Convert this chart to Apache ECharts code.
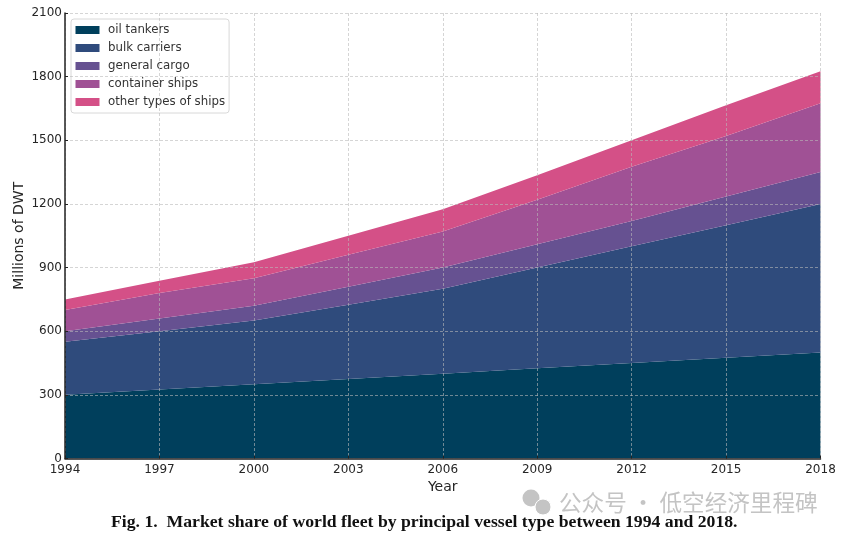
<!DOCTYPE html>
<html lang="zh-CN" style="height: 100%">
<head>
  <meta charset="utf-8">
</head>
<body style="height: 100%; margin: 0; background: #fff">
  <div id="container" style="width: 847px; height: 537px"></div>
  <script src="https://fastly.jsdelivr.net/npm/echarts@6/dist/echarts.min.js"></script>
  <script>
    var years = ['1994', '1997', '2000', '2003', '2006', '2009', '2012', '2015', '2018'];
    var oilTankers = [300, 325, 350, 375, 400, 425, 450, 475, 500];
    var bulkCarriers = [250, 275, 300, 350, 400, 475, 550, 625, 700];
    var generalCargo = [50, 60, 70, 85, 100, 110, 120, 135, 150];
    var containerShips = [100, 120, 130, 150, 170, 210, 255, 285, 325];
    var otherShips = [50, 58, 75, 90, 105, 115, 125, 145, 150];
    var seriesNames = ['oil tankers', 'bulk carriers', 'general cargo', 'container ships', 'other types of ships'];
    var seriesValues = [oilTankers, bulkCarriers, generalCargo, containerShips, otherShips];
    var colors = ['#003f5c', '#2f4b7c', '#665191', '#a05195', '#d45087'];
    var caption = 'Fig. 1.  Market share of world fleet by principal vessel type between 1994 and 2018.';
    var watermark = '公众号 · 低空经济里程碑';

    var font = '"DejaVu Sans"';
    var gridLine = { show: true, lineStyle: { color: 'rgba(185,185,185,0.6)', type: [3, 2], width: 1 } };

    var chart = echarts.init(document.getElementById('container'), null, { renderer: 'canvas' });
    var option = {
      animation: false,
      color: colors,
      textStyle: { fontFamily: font },
      grid: { left: 65, right: 26.5, top: 13, bottom: 78.5, outerBoundsMode: 'none' },
      legend: {
        left: 71,
        top: 19,
        orient: 'vertical',
        icon: 'rect',
        itemWidth: 24,
        itemHeight: 8,
        itemGap: 4,
        padding: [4, 4, 4, 4.5],
        borderColor: '#d8d8d8',
        borderWidth: 1,
        borderRadius: 3,
        backgroundColor: 'rgba(255,255,255,0.85)',
        textStyle: { fontFamily: font, fontSize: 11.8, lineHeight: 14, color: '#333', padding: [0, 0, 0, 3.5] }
      },
      xAxis: {
        type: 'category',
        boundaryGap: false,
        data: years,
        z: 5,
        name: 'Year',
        nameLocation: 'middle',
        nameGap: 22,
        nameTextStyle: { fontFamily: font, fontSize: 14, color: '#262626' },
        axisLine: { show: true, lineStyle: { color: '#222', width: 1.5 } },
        axisTick: { show: true, inside: true, length: 3, alignWithLabel: true, lineStyle: { color: '#222' } },
        axisLabel: { fontFamily: font, fontSize: 12, color: '#262626', margin: 5, interval: 0, showMinLabel: true, showMaxLabel: true },
        splitLine: gridLine
      },
      yAxis: {
        type: 'value',
        min: 0,
        max: 2100,
        interval: 300,
        z: 5,
        name: 'Millions of DWT',
        nameLocation: 'middle',
        nameGap: 39,
        nameMoveOverlap: false,
        nameTextStyle: { fontFamily: font, fontSize: 14, color: '#262626' },
        axisLine: { show: true, lineStyle: { color: '#222', width: 1.5 } },
        axisTick: { show: true, inside: true, length: 3, lineStyle: { color: '#222' } },
        axisLabel: {
          fontFamily: font,
          fontSize: 12,
          color: '#262626',
          margin: 3,
          formatter: function (v) { return String(v); }
        },
        splitLine: gridLine
      },
      series: seriesNames.map(function (name, i) {
        return {
          name: name,
          type: 'line',
          stack: 'fleet',
          data: seriesValues[i],
          showSymbol: false,
          lineStyle: { width: 0 },
          itemStyle: { color: colors[i] },
          areaStyle: { color: colors[i], opacity: 1 }
        };
      }),
      graphic: [
        {
          type: 'text',
          left: 111,
          top: 513,
          style: {
            text: caption,
            font: 'bold 17.7px "Liberation Serif"',
            fill: '#111'
          }
        },
        {
          type: 'text',
          left: 559,
          top: 491,
          style: {
            text: watermark,
            font: '22.6px "Noto Sans CJK SC"',
            fill: '#c4c4c4'
          }
        },
        { type: 'circle', shape: { cx: 531, cy: 498, r: 8.5 }, style: { fill: '#c4c4c4' } },
        { type: 'circle', shape: { cx: 543, cy: 507, r: 8 }, style: { fill: '#c4c4c4', stroke: '#fff', lineWidth: 1 } }
      ]
    };
    chart.setOption(option);
    window.addEventListener('resize', chart.resize);
  </script>
</body>
</html>
